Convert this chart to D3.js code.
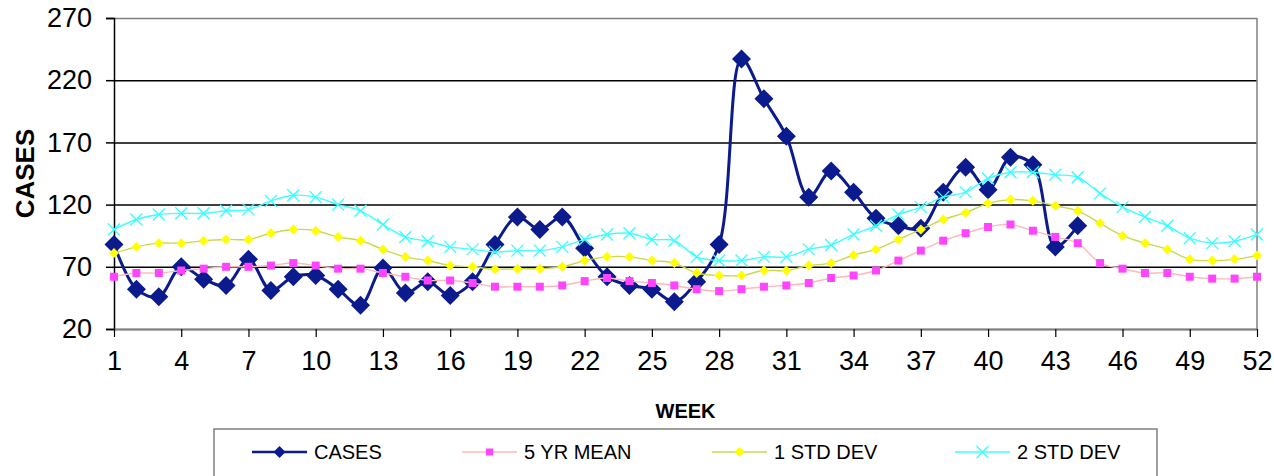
<!DOCTYPE html>
<html>
<head>
<meta charset="utf-8">
<script src="https://cdn.jsdelivr.net/npm/d3@7"></script>
<style>
  html, body { margin: 0; padding: 0; background: #fff; }
  svg { display: block; font-family: Arial, "Liberation Sans", sans-serif; }
</style>
</head>
<body>
<div id="chart"></div>
<script>
// week categories and tick labels
const weeks = d3.range(1, 53);
const weekTicks = [1, 4, 7, 10, 13, 16, 19, 22, 25, 28, 31, 34, 37, 40, 43, 46, 49, 52];
const caseTicks = [20, 70, 120, 170, 220, 270];

// series values
const cases = [88, 52, 46, 70, 60, 55, 76, 51, 62, 63, 52, 39, 69,
    49, 58, 47, 58, 88,
    110, 100, 110, 85, 62, 55, 52, 42, 58, 88, 237, 205, 175, 126, 147,
    130, 109, 103, 101, 130, 150, 132, 158, 152, 86, 103];

const mean5 = [62, 65, 65, 67, 68.5, 70, 70, 71, 73, 71, 68.5, 68.5, 65,
    62, 59, 59, 57, 54,
    54, 54, 55, 58.5, 61, 58.5, 57, 55, 52, 50.5, 52, 54, 55, 57, 61,
    63, 67, 75, 83, 91, 97, 102, 104, 99, 94, 89, 73, 68.5, 65, 65, 62, 60.5, 60.5, 62];

const std1 = [81, 86, 89, 89, 91, 92, 92, 97, 100, 99, 94, 91, 84,
    78, 75, 71, 70, 68,
    68.5, 68.5, 70, 75, 78, 78, 75, 73, 65, 63, 63, 67, 67, 71, 73,
    79.5, 84, 92, 100, 108, 113.5, 121, 124, 123, 119, 115, 105, 95, 89, 84, 76, 75, 76, 79];

const std2 = [100, 108, 112, 113, 113, 115, 116, 123, 127.5, 126, 120, 115, 104,
    94, 90.5, 86, 84, 82,
    83, 83, 86, 92, 96, 97, 92, 91, 78, 75, 75, 78, 78, 84, 87.5,
    96, 103, 112, 118, 126, 130, 141, 146, 146, 144, 142, 129, 118, 110, 103, 93, 89, 90.5, 96];

const W = 1274, H = 476;
const plotL = 114, plotR = 1257, plotT = 18, plotB = 329;

const svg = d3.select('#chart')
    .append('svg')
    .attr('width', W)
    .attr('height', H);

const x = d3.scaleLinear().domain([1, 52]).range([plotL, plotR]);
const y = d3.scaleLinear().domain([20, 270]).range([plotB, plotT]);

// gridlines (black), top one is the gray plot border
const grid = svg.append('g')
    .attr('transform', `translate(${plotL},0)`)
    .call(d3.axisLeft(y).tickValues(caseTicks).tickSize(-(plotR - plotL)).tickFormat(''));
grid.select('.domain').remove();
grid.selectAll('.tick line')
    .attr('stroke', d => d === 270 ? '#808080' : '#000')
    .attr('stroke-width', 1.5);

// right border
svg.append('line')
    .attr('x1', plotR).attr('x2', plotR)
    .attr('y1', plotT).attr('y2', plotB)
    .attr('stroke', '#808080').attr('stroke-width', 1.5);

// y axis
const yAxis = svg.append('g')
    .attr('transform', `translate(${plotL},0)`)
    .call(d3.axisLeft(y).tickValues(caseTicks).tickSize(8).tickPadding(14));
yAxis.select('.domain').attr('stroke', '#000').attr('stroke-width', 1.5);
yAxis.selectAll('.tick line').attr('stroke', '#000').attr('stroke-width', 1.5);
yAxis.selectAll('.tick text')
    .attr('font-size', 27)
    .attr('font-family', 'Arial, "Liberation Sans", sans-serif')
    .attr('fill', '#000');

// x axis
const xAxis = svg.append('g')
    .attr('transform', `translate(0,${plotB})`)
    .call(d3.axisBottom(x).tickValues(weekTicks).tickSize(8).tickPadding(14).tickSizeOuter(0));
xAxis.select('.domain').attr('stroke', '#808080').attr('stroke-width', 1.5);
xAxis.selectAll('.tick line').attr('stroke', '#000').attr('stroke-width', 1.2);
xAxis.selectAll('.tick text')
    .attr('font-size', 27)
    .attr('font-family', 'Arial, "Liberation Sans", sans-serif')
    .attr('fill', '#000');

// axis titles
svg.append('text')
    .attr('transform', `translate(34,${(plotT + plotB) / 2}) rotate(-90)`)
    .attr('text-anchor', 'middle')
    .attr('font-size', 26)
    .attr('font-weight', 'bold')
    .text('CASES');

svg.append('text')
    .attr('x', (plotL + plotR) / 2)
    .attr('y', 418)
    .attr('text-anchor', 'middle')
    .attr('font-size', 20)
    .attr('font-weight', 'bold')
    .text('WEEK');

// markers
function diamond(r) {
    return `M0,${-r}L${r},0L0,${r}L${-r},0Z`;
}
function square(s) {
    return `M${-s / 2},${-s / 2}h${s}v${s}h${-s}Z`;
}
function cross(r) {
    return `M${-r},${-r}L${r},${r}M${-r},${r}L${r},${-r}`;
}

const series = [
    { name: 'CASES', values: cases, line: '#0b1b8d', width: 3, marker: diamond(9.5), fill: '#0b1b8d', stroke: 'none', legMarker: diamond(6) },
    { name: '5 YR MEAN', values: mean5, line: '#ffb8b8', width: 1.4, marker: square(8), fill: '#ff44ff', stroke: 'none', legMarker: square(7) },
    { name: '1 STD DEV', values: std1, line: '#c8d850', width: 1.4, marker: diamond(5), fill: '#ffff00', stroke: 'none', legMarker: diamond(5) },
    { name: '2 STD DEV', values: std2, line: '#40ffff', width: 1.4, marker: cross(6), fill: 'none', stroke: '#33ffff', legMarker: cross(6) }
];

const line = d3.line()
    .x((d, i) => x(weeks[i]))
    .y(d => y(d))
    .curve(d3.curveCatmullRom.alpha(0.5));

series.forEach(s => {
    const g = svg.append('g').attr('class', 'series');
    g.append('path')
        .datum(s.values)
        .attr('d', line)
        .attr('fill', 'none')
        .attr('stroke', s.line)
        .attr('stroke-width', s.width);
    g.selectAll('path.mark')
        .data(s.values)
        .enter()
        .append('path')
        .attr('class', 'mark')
        .attr('transform', (d, i) => `translate(${x(weeks[i])},${y(d)})`)
        .attr('d', s.marker)
        .attr('fill', s.fill)
        .attr('stroke', s.stroke)
        .attr('stroke-width', 1.3);
});

// legend
svg.append('rect')
    .attr('x', 214).attr('y', 429)
    .attr('width', 943).attr('height', 60)
    .attr('fill', '#fff')
    .attr('stroke', '#808080')
    .attr('stroke-width', 1.5);

const legX = [252, 462, 712, 955];
const legY = 452;

series.forEach((s, i) => {
    const g = svg.append('g').attr('transform', `translate(${legX[i]},${legY})`);
    g.append('line')
        .attr('x1', 0).attr('x2', 55)
        .attr('stroke', s.line)
        .attr('stroke-width', s.width === 3 ? 2.5 : 1.6);
    g.append('path')
        .attr('transform', 'translate(27.5,0)')
        .attr('d', s.legMarker)
        .attr('fill', s.fill)
        .attr('stroke', s.stroke)
        .attr('stroke-width', 1.3);
    g.append('text')
        .attr('x', 62)
        .attr('y', 7)
        .attr('font-size', 20)
        .attr('fill', '#000')
        .text(s.name);
});
</script>
</body>
</html>
